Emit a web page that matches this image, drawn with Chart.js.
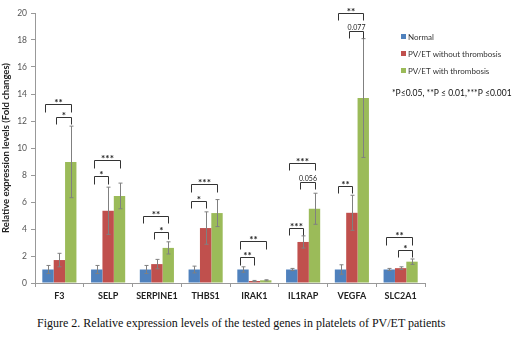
<!DOCTYPE html>
<html>
<head>
<meta charset="utf-8">
<script src="https://cdn.jsdelivr.net/npm/chart.js@4"></script>
<style>
  body { margin: 0; background: #fff; }
  #wrap { position: relative; width: 520px; height: 338px; }
  #chartBox { position: absolute; left: 0; top: 0; width: 520px; height: 305px; }
  #caption {
    position: absolute; left: 37px; top: 316px;
    font-family: "Liberation Serif", serif; font-size: 12px; color: #111;
    white-space: nowrap;
  }
</style>
</head>
<body>
<div id="wrap">
  <div id="chartBox"><canvas id="chart"></canvas></div>
  <div id="caption">Figure 2. Relative expression levels of the tested genes in platelets of PV/ET patients</div>
</div>
<script>
// Data
const genes = ["F3", "SELP", "SERPINE1", "THBS1", "IRAK1", "IL1RAP", "VEGFA", "SLC2A1"];
const normal = [1.0, 1.0, 1.0, 1.0, 1.0, 1.0, 1.0, 1.0];
const normalErr = [0.3, 0.3, 0.3, 0.25, 0.2, 0.08, 0.35, 0.08];
const withoutThr = [1.7, 5.35, 1.4, 4.07, 0.15, 3.04, 5.2, 1.1];
const withoutErr = [0.5, 1.75, 0.35, 1.2, 0.04, 0.45, 1.3, 0.1];
const withThr = [8.97, 6.45, 2.6, 5.18, 0.2, 5.5, 13.7, 1.58];
const withErr = [2.65, 0.95, 0.45, 1.0, 0.04, 1.15, 4.4, 0.2];
const yTicks = [0, 2, 4, 6, 8, 10, 12, 14, 16, 18, 20];

// Significance brackets: [category, first series, second series, y level, label]
const brackets = [
  [0, 0, 2, 13.25, "**"], [0, 1, 2, 12.3, "*"],
  [1, 0, 2, 9.1, "***"], [1, 0, 1, 7.9, "*"],
  [2, 0, 2, 5.0, "**"], [2, 1, 2, 3.8, "*"],
  [3, 0, 2, 7.3, "***"], [3, 0, 1, 6.1, "*"],
  [4, 0, 2, 3.1, "**"], [4, 0, 1, 1.9, "**"],
  [5, 0, 2, 8.9, "***"], [5, 1, 2, 7.5, "0.056"], [5, 0, 1, 4.1, "***"],
  [6, 0, 2, 20.0, "**"], [6, 1, 2, 18.7, "0.077"], [6, 0, 1, 7.2, "**"],
  [7, 0, 2, 3.4, "**"], [7, 1, 2, 2.45, "*"]
];

const errors = [normalErr, withoutErr, withErr];

// error bars drawn from the err arrays
const errorBars = {
  id: "errorBars",
  afterDatasetsDraw(chart) {
    const ctx = chart.ctx;
    const y = chart.scales.y;
    ctx.save();
    ctx.strokeStyle = "#808080";
    ctx.lineWidth = 1;
    chart.data.datasets.forEach((ds, i) => {
      chart.getDatasetMeta(i).data.forEach((bar, j) => {
        const v = ds.data[j];
        const e = errors[i][j];
        const x = Math.round(bar.x) + 0.5;
        const top = y.getPixelForValue(v + e);
        const bot = y.getPixelForValue(Math.max(v - e, 0));
        ctx.beginPath();
        ctx.moveTo(x, top); ctx.lineTo(x, bot);
        ctx.moveTo(x - 2, top); ctx.lineTo(x + 2, top);
        ctx.moveTo(x - 2, bot); ctx.lineTo(x + 2, bot);
        ctx.stroke();
      });
    });
    ctx.restore();
  }
};

// significance brackets and labels
const sigMarks = {
  id: "sigMarks",
  afterDatasetsDraw(chart) {
    const ctx = chart.ctx;
    const y = chart.scales.y;
    ctx.save();
    ctx.strokeStyle = "#333";
    ctx.fillStyle = "#222";
    ctx.lineWidth = 1;
    ctx.textAlign = "center";
    ctx.textBaseline = "bottom";
    brackets.forEach(([cat, a, b, level, label]) => {
      const barA = chart.getDatasetMeta(a).data[cat];
      const barB = chart.getDatasetMeta(b).data[cat];
      const x1 = Math.round(barA.x - 3) + 0.5;
      const x2 = Math.round(barB.x) + 0.5;
      const yl = Math.round(y.getPixelForValue(level)) + 0.5;
      const yd = Math.round(y.getPixelForValue(level - 0.55)) + 0.5;
      ctx.beginPath();
      ctx.moveTo(x1, yd); ctx.lineTo(x1, yl); ctx.lineTo(x2, yl); ctx.lineTo(x2, yd);
      ctx.stroke();
      if (label.startsWith("0")) {
        ctx.font = "7px Lato";
        ctx.fillText(label, (x1 + x2) / 2, yl);
      } else {
        ctx.font = "bold 10px Lato";
        ctx.fillText(label, (x1 + x2) / 2, yl + 3);
      }
    });
    ctx.restore();
  }
};

// legend and p-value note on the right
const sideLegend = {
  id: "sideLegend",
  afterDraw(chart) {
    const ctx = chart.ctx;
    ctx.save();
    ctx.font = "8px Lato";
    ctx.textBaseline = "middle";
    chart.data.datasets.forEach((ds, i) => {
      const yy = 37 + i * 17;
      ctx.fillStyle = ds.backgroundColor;
      ctx.fillRect(401, yy - 3, 5, 5);
      ctx.fillStyle = "#333";
      ctx.fillText(ds.label, 408, yy);
    });
    ctx.font = "8.5px Lato";
    ctx.fillStyle = "#111";
    ctx.fillText("*P\u22640.05, **P \u2264 0.01,***P \u22640.001", 392, 93);
    ctx.restore();
  }
};

new Chart(document.getElementById("chart"), {
  type: "bar",
  data: {
    labels: genes,
    datasets: [
      { label: "Normal", data: normal, backgroundColor: "#4F81BD" },
      { label: "PV/ET without thrombosis", data: withoutThr, backgroundColor: "#C0504D" },
      { label: "PV/ET with thrombosis", data: withThr, backgroundColor: "#9BBB59" }
    ]
  },
  options: {
    responsive: true,
    maintainAspectRatio: false,
    animation: false,
    datasets: { bar: { categoryPercentage: 0.7, barPercentage: 1.0 } },
    layout: { padding: { left: 0, right: 95, top: 13, bottom: 0 } },
    plugins: { legend: { display: false }, tooltip: { enabled: false } },
    scales: {
      x: {
        grid: { display: true, offset: true, drawOnChartArea: false, tickLength: 4, color: "#999" },
        border: { color: "#999" },
        ticks: { color: "#222", font: { family: "Lato", size: 9, weight: "bold" }, padding: 4 },
        afterFit: (s) => { s.height = 22; }
      },
      y: {
        min: 0, max: 20,
        afterBuildTicks: (s) => { s.ticks = yTicks.map((v) => ({ value: v })); },
        grid: { display: true, drawOnChartArea: false, tickLength: 4, color: "#999" },
        border: { color: "#999" },
        ticks: { color: "#555", font: { family: "Lato", size: 8.5 }, padding: 4 },
        title: {
          display: true,
          text: "Relative expression levels (Fold changes)",
          color: "#222",
          font: { family: "Lato", size: 9.5, weight: "bold" },
          padding: 0
        },
        afterFit: (s) => { s.width = 35; }
      }
    }
  },
  plugins: [errorBars, sigMarks, sideLegend]
});
</script>
</body>
</html>
